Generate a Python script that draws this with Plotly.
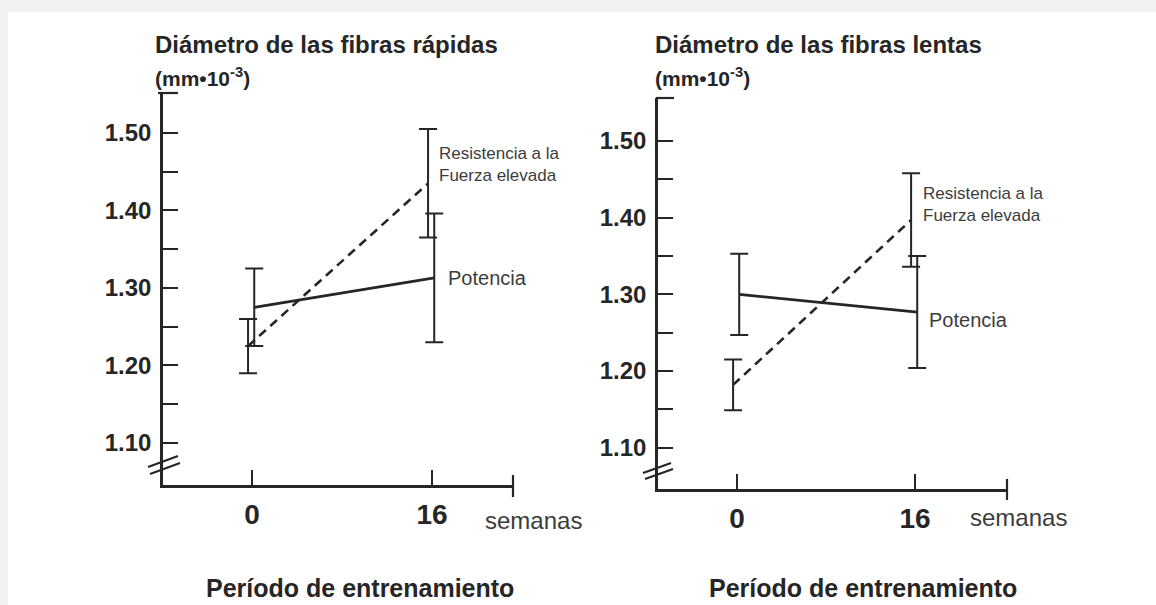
import plotly.graph_objects as go

# Training period (weeks) and fibre diameters (mm·10^-3), mean ± SD
weeks = [0, 16]

fast_potencia = [1.275, 1.313]
fast_potencia_sd = [0.050, 0.083]
fast_resistencia = [1.225, 1.435]
fast_resistencia_sd = [0.035, 0.070]

slow_potencia = [1.300, 1.277]
slow_potencia_sd = [0.053, 0.073]
slow_resistencia = [1.182, 1.397]
slow_resistencia_sd = [0.033, 0.061]

y_ticks = [1.10, 1.20, 1.30, 1.40, 1.50]
y_tick_labels = ["1.10", "1.20", "1.30", "1.40", "1.50"]
y_minor = [1.15, 1.25, 1.35, 1.45]
x_tick_labels = ["0", "16"]

titles = ["Diámetro de las fibras rápidas", "Diámetro de las fibras lentas"]
unit = "(mm•10<sup>-3</sup>)"
x_title = "Período de entrenamiento"
x_unit = "semanas"
label_res = "Resistencia a la<br>Fuerza elevada"
label_pot = "Potencia"

W, H = 1156, 605
INK = "#262626"
SOFT = "#3c3c3c"
FONT = "Liberation Sans, Arial, sans-serif"


def px(x):
    return x / W


def py(y):
    return 1 - y / H


fig = go.Figure()

panels = [
    dict(xa="x", ya="y", pot=fast_potencia, pot_sd=fast_potencia_sd,
         res=fast_resistencia, res_sd=fast_resistencia_sd),
    dict(xa="x2", ya="y2", pot=slow_potencia, pot_sd=slow_potencia_sd,
         res=slow_resistencia, res_sd=slow_resistencia_sd),
]

# small side-by-side offsets so overlapping bars stay readable
POT_SHIFT, RES_SHIFT = 0.2, -0.35

for p in panels:
    fig.add_trace(go.Scatter(
        x=[w + RES_SHIFT for w in weeks], y=p["res"], mode="lines",
        line=dict(color=INK, width=2.6, dash="9px,6px"),
        error_y=dict(type="data", array=p["res_sd"], visible=True,
                     color=INK, thickness=2, width=9),
        xaxis=p["xa"], yaxis=p["ya"], showlegend=False, hoverinfo="skip"))
    fig.add_trace(go.Scatter(
        x=[w + POT_SHIFT for w in weeks], y=p["pot"], mode="lines",
        line=dict(color=INK, width=2.8),
        error_y=dict(type="data", array=p["pot_sd"], visible=True,
                     color=INK, thickness=2, width=9),
        xaxis=p["xa"], yaxis=p["ya"], showlegend=False, hoverinfo="skip"))

yaxis_common = dict(
    tickmode="array", tickvals=y_ticks, ticktext=y_tick_labels,
    ticks="inside", ticklen=15, tickwidth=2.2, tickcolor=INK,
    minor=dict(tickmode="array", tickvals=y_minor, ticks="inside",
               ticklen=15, tickwidth=2.2, tickcolor=INK, showgrid=False),
    showline=True, linecolor=INK, linewidth=2.6,
    showgrid=False, zeroline=False,
    tickfont=dict(family=FONT, size=24, color=INK, weight="bold"),
    ticklabelstandoff=4, fixedrange=True,
)
xaxis_common = dict(
    tickmode="array", tickvals=weeks, ticktext=x_tick_labels,
    ticks="inside", ticklen=15, tickwidth=2.2, tickcolor=INK,
    showline=True, linecolor=INK, linewidth=2.6,
    showgrid=False, zeroline=False,
    tickfont=dict(family=FONT, size=28, color=INK, weight="bold"),
    ticklabelstandoff=3, fixedrange=True,
)

fig.update_layout(
    width=W, height=H, autosize=False,
    margin=dict(l=0, r=0, t=0, b=0),
    paper_bgcolor="white", plot_bgcolor="white",
    xaxis=dict(domain=[px(163), px(513)], range=[-7.91, 23.2],
               anchor="y", **xaxis_common),
    yaxis=dict(domain=[py(485), py(93)], range=[1.0458, 1.5516],
               anchor="x", **yaxis_common),
    xaxis2=dict(domain=[px(658), px(1007)], range=[-7.10, 24.27],
                anchor="y2", **xaxis_common),
    yaxis2=dict(domain=[py(489), py(98)], range=[1.0463, 1.556],
                anchor="x2", **yaxis_common),
)

shapes = []
# light frame band along the top and left edges
shapes.append(dict(type="rect", xref="paper", yref="paper", x0=0, x1=1,
                   y0=py(12), y1=1, fillcolor="#f2f2f2", line_width=0, layer="below"))
shapes.append(dict(type="rect", xref="paper", yref="paper", x0=0, x1=px(8),
                   y0=0, y1=1, fillcolor="#f2f2f2", line_width=0, layer="below"))


def seg(x0, y0, x1, y1, w=2.2):
    shapes.append(dict(type="line", xref="paper", yref="paper",
                       x0=px(x0), y0=py(y0), x1=px(x1), y1=py(y1),
                       line=dict(color=INK, width=w)))


# axis caps
seg(158, 93, 178, 93)
seg(656, 98, 674, 98)
seg(513, 475, 513, 497)
seg(1007, 479, 1007, 500)
# axis break marks
seg(148, 467, 178, 456)
seg(150, 474, 180, 463)
seg(643, 473, 671, 463)
seg(645, 479, 673, 469)

fig.update_layout(shapes=shapes)

ann = []


def text(x, y, s, size, bold=False, xanchor="left", color=INK):
    ann.append(dict(xref="paper", yref="paper", x=px(x), y=py(y), text=s,
                    showarrow=False, xanchor=xanchor, yanchor="middle",
                    align="left",
                    font=dict(family=FONT, size=size, color=color,
                              weight="bold" if bold else "normal")))


for title, tx in zip(titles, [153, 653]):
    text(tx, 44, title, 24, bold=True)
    text(tx, 77, unit, 21, bold=True)

text(483, 520, x_unit, 24, color=SOFT)
text(968, 517, x_unit, 24, color=SOFT)
text(360, 588, x_title, 25, bold=True, xanchor="center")
text(863, 588, x_title, 25, bold=True, xanchor="center")

text(437, 164, label_res, 17, color=SOFT)
text(921, 204, label_res, 17, color=SOFT)
text(446, 278, label_pot, 20, color=SOFT)
text(927, 320, label_pot, 20, color=SOFT)

fig.update_layout(annotations=ann)

fig.write_html("out.html", config={"displayModeBar": False})
